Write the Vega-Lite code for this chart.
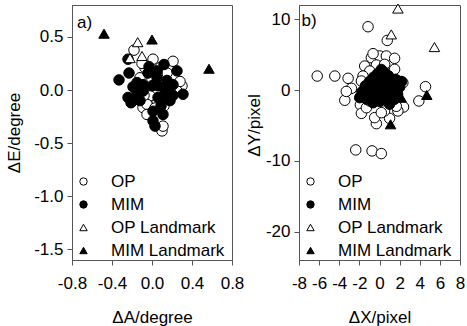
{
 "$schema": "https://vega.github.io/schema/vega-lite/v6.json",
 "padding": {"left": 5, "top": 1, "right": 0, "bottom": 0},
 "config": {
  "font": "Liberation Sans",
  "locale": {"number": {"decimal": ".", "thousands": ",", "grouping": [3], "currency": ["$", ""], "minus": "-"}},
  "view": {"stroke": "#555", "strokeWidth": 1},
  "axis": {"labelFontSize": 17, "titleFontSize": 17, "titleFontWeight": "normal", "labelColor": "black", "titleColor": "black", "domainColor": "#555", "tickColor": "#555", "tickSize": 5, "grid": false, "labelPadding": 4, "labelFlush": false, "labelOverlap": false, "labelBound": false, "titleFont": "Liberation Sans", "labelFont": "Liberation Sans"},
  "axisX": {"labelPadding": 10, "titlePadding": 18},
  "legend": {"labelFont": "Liberation Sans"},
  "text": {"font": "Liberation Sans"}
 },
 "spacing": 67,
 "bounds": "flush",
 "resolve": {"scale": {"x": "independent", "y": "independent", "shape": "independent", "fill": "independent", "stroke": "independent"}, "legend": {"shape": "independent", "fill": "independent", "stroke": "independent"}},
 "hconcat": [
  {
   "width": 160, "height": 255,
   "layer": [
    {
     "data": {"values": [
      {"x": -0.18, "y": 0.375, "s": "OP"}, {"x": 0.01, "y": 0.29, "s": "OP"}, {"x": -0.07, "y": 0.21, "s": "OP"}, {"x": 0.30, "y": 0.04, "s": "OP"}, {"x": 0.28, "y": 0.08, "s": "OP"}, {"x": 0.10, "y": -0.385, "s": "OP"}, {"x": 0.11, "y": -0.34, "s": "OP"}, {"x": -0.09, "y": -0.165, "s": "OP"}, {"x": 0.05, "y": -0.10, "s": "OP"}, {"x": -0.15, "y": 0.04, "s": "OP"}, {"x": 0.08, "y": 0.21, "s": "OP"}, {"x": 0.15, "y": 0.16, "s": "OP"}, {"x": -0.02, "y": -0.055, "s": "OP"}, {"x": -0.14, "y": -0.07, "s": "OP"}, {"x": -0.05, "y": -0.135, "s": "OP"}, {"x": -0.12, "y": 0.115, "s": "OP"}, {"x": 0.21, "y": 0.27, "s": "OP"}, {"x": 0.0, "y": 0.10, "s": "OP"}, {"x": 0.15, "y": -0.04, "s": "OP"}, {"x": -0.05, "y": -0.23, "s": "OP"}, {"x": 0.25, "y": -0.01, "s": "OP"}, {"x": 0.03, "y": -0.17, "s": "OP"}, {"x": -0.1, "y": 0.25, "s": "OP"}, {"x": 0.05, "y": 0.15, "s": "OP"}, {"x": -0.08, "y": -0.05, "s": "OP"}, {"x": 0.12, "y": -0.15, "s": "OP"},
      {"x": -0.24, "y": 0.29, "s": "MIM"}, {"x": -0.33, "y": 0.095, "s": "MIM"}, {"x": -0.23, "y": 0.16, "s": "MIM"}, {"x": -0.24, "y": -0.07, "s": "MIM"}, {"x": -0.19, "y": -0.10, "s": "MIM"}, {"x": -0.15, "y": 0.07, "s": "MIM"}, {"x": -0.19, "y": 0.03, "s": "MIM"}, {"x": -0.09, "y": -0.01, "s": "MIM"}, {"x": -0.04, "y": 0.16, "s": "MIM"}, {"x": 0.12, "y": 0.24, "s": "MIM"}, {"x": 0.05, "y": 0.115, "s": "MIM"}, {"x": 0.15, "y": 0.09, "s": "MIM"}, {"x": 0.25, "y": 0.18, "s": "MIM"}, {"x": 0.31, "y": -0.04, "s": "MIM"}, {"x": 0.21, "y": -0.05, "s": "MIM"}, {"x": 0.18, "y": -0.10, "s": "MIM"}, {"x": 0.11, "y": -0.23, "s": "MIM"}, {"x": 0.01, "y": -0.29, "s": "MIM"}, {"x": 0.03, "y": -0.34, "s": "MIM"}, {"x": 0.06, "y": 0.04, "s": "MIM"}, {"x": 0.0, "y": 0.04, "s": "MIM"}, {"x": 0.06, "y": -0.07, "s": "MIM"}, {"x": 0.13, "y": 0.0, "s": "MIM"}, {"x": 0.21, "y": 0.05, "s": "MIM"}, {"x": -0.12, "y": -0.10, "s": "MIM"}, {"x": -0.21, "y": -0.12, "s": "MIM"}, {"x": 0.01, "y": -0.2, "s": "MIM"}, {"x": -0.09, "y": 0.05, "s": "MIM"}, {"x": 0.05, "y": 0.18, "s": "MIM"}, {"x": 0.15, "y": -0.07, "s": "MIM"}, {"x": -0.03, "y": 0.22, "s": "MIM"}, {"x": 0.09, "y": -0.15, "s": "MIM"}, {"x": -0.15, "y": -0.02, "s": "MIM"},
      {"x": -0.143, "y": 0.45, "s": "OP Landmark"}, {"x": -0.10, "y": 0.32, "s": "OP Landmark"}, {"x": -0.22, "y": 0.30, "s": "OP Landmark"},
      {"x": -0.48, "y": 0.53, "s": "MIM Landmark"}, {"x": 0.0, "y": 0.475, "s": "MIM Landmark"}, {"x": 0.57, "y": 0.20, "s": "MIM Landmark"}
     ]},
     "mark": {"type": "point", "filled": true, "size": 110, "strokeWidth": 1, "opacity": 1},
     "encoding": {
      "x": {"field": "x", "type": "quantitative", "scale": {"domain": [-0.8, 0.8], "nice": false, "zero": false}, "axis": {"values": [-0.8, -0.4, 0, 0.4, 0.8], "tickCount": 20, "format": ".1f", "title": "ΔA/degree", "labelOverlap": false}},
      "y": {"field": "y", "type": "quantitative", "scale": {"domain": [-1.6, 0.8], "nice": false, "zero": false}, "axis": {"values": [-1.5, -1, -0.5, 0, 0.5], "tickCount": 20, "format": ".1f", "title": "ΔE/degree", "titlePadding": 10, "labelOverlap": false}},
      "shape": {"field": "s", "type": "nominal", "scale": {"domain": ["OP", "MIM", "OP Landmark", "MIM Landmark"], "range": ["circle", "circle", "triangle-up", "triangle-up"]}, "legend": {"orient": "bottom-left", "title": null, "labelFontSize": 17, "symbolSize": 55, "symbolStrokeWidth": 1, "rowPadding": 5, "padding": 0, "offset": 1, "symbolOffset": 2, "labelOffset": 19}},
      "fill": {"field": "s", "type": "nominal", "scale": {"domain": ["OP", "MIM", "OP Landmark", "MIM Landmark"], "range": ["white", "black", "white", "black"]}, "legend": {"orient": "bottom-left", "title": null, "labelFontSize": 17, "symbolSize": 55, "symbolStrokeWidth": 1, "rowPadding": 5, "padding": 0, "offset": 1, "symbolOffset": 2, "labelOffset": 19}},
      "stroke": {"field": "s", "type": "nominal", "scale": {"domain": ["OP", "MIM", "OP Landmark", "MIM Landmark"], "range": ["black", "black", "black", "black"]}, "legend": {"orient": "bottom-left", "title": null, "labelFontSize": 17, "symbolSize": 55, "symbolStrokeWidth": 1, "rowPadding": 5, "padding": 0, "offset": 1, "symbolOffset": 2, "labelOffset": 19}}
     }
    },
    {
     "data": {"values": [{"x": -0.75, "y": 0.71, "t": "a)"}]},
     "mark": {"type": "text", "align": "left", "baseline": "top", "fontSize": 17, "color": "black"},
     "encoding": {"x": {"field": "x", "type": "quantitative"}, "y": {"field": "y", "type": "quantitative"}, "text": {"field": "t"}}
    }
   ]
  },
  {
   "width": 161, "height": 255,
   "layer": [
    {
     "data": {"values": [
      {"x": -6.19, "y": 1.97, "s": "OP"}, {"x": -4.44, "y": 1.97, "s": "OP"}, {"x": -1.14, "y": 8.93, "s": "OP"}, {"x": 0.77, "y": 7.0, "s": "OP"}, {"x": -3.12, "y": 1.65, "s": "OP"}, {"x": -2.79, "y": 0.23, "s": "OP"}, {"x": -3.45, "y": -1.45, "s": "OP"}, {"x": -3.3, "y": -0.2, "s": "OP"}, {"x": -2.36, "y": -8.46, "s": "OP"}, {"x": -0.74, "y": -8.6, "s": "OP"}, {"x": 0.18, "y": -8.98, "s": "OP"}, {"x": 4.57, "y": 0.47, "s": "OP"}, {"x": 3.91, "y": -1.55, "s": "OP"}, {"x": 2.39, "y": -2.4, "s": "OP"}, {"x": -1.9, "y": -2.1, "s": "OP"}, {"x": -1.8, "y": -3.3, "s": "OP"}, {"x": -0.31, "y": -4.75, "s": "OP"}, {"x": 1.0, "y": -4.0, "s": "OP"}, {"x": 0.5, "y": -2.96, "s": "OP"}, {"x": -0.81, "y": 4.56, "s": "OP"}, {"x": 0.01, "y": 4.8, "s": "OP"}, {"x": 0.68, "y": 4.8, "s": "OP"}, {"x": 1.5, "y": 4.47, "s": "OP"}, {"x": -0.64, "y": 5.13, "s": "OP"}, {"x": -0.31, "y": 3.53, "s": "OP"}, {"x": 0.51, "y": 3.62, "s": "OP"}, {"x": -1.47, "y": 3.38, "s": "OP"}, {"x": -0.97, "y": 2.68, "s": "OP"}, {"x": 1.5, "y": 2.92, "s": "OP"}, {"x": -1.64, "y": 1.97, "s": "OP"}, {"x": -1.8, "y": 1.27, "s": "OP"}, {"x": 2.32, "y": 1.03, "s": "OP"}, {"x": 1.83, "y": 1.27, "s": "OP"}, {"x": -1.8, "y": -0.38, "s": "OP"}, {"x": -1.3, "y": -2.5, "s": "OP"}, {"x": -0.48, "y": -3.9, "s": "OP"}, {"x": 0.18, "y": -3.2, "s": "OP"}, {"x": 1.83, "y": -2.96, "s": "OP"}, {"x": 1.67, "y": -2.3, "s": "OP"}, {"x": -0.97, "y": -1.55, "s": "OP"},
      {"x": 0.18, "y": 2.9, "s": "MIM"}, {"x": 0.5, "y": 2.5, "s": "MIM"}, {"x": -0.2, "y": 2.3, "s": "MIM"}, {"x": 0.9, "y": 2.0, "s": "MIM"}, {"x": -0.6, "y": 1.8, "s": "MIM"}, {"x": 1.6, "y": 1.5, "s": "MIM"}, {"x": 2.0, "y": 1.2, "s": "MIM"}, {"x": 1.2, "y": 1.0, "s": "MIM"}, {"x": -1.0, "y": 1.2, "s": "MIM"}, {"x": -1.4, "y": 0.6, "s": "MIM"}, {"x": -1.7, "y": -0.2, "s": "MIM"}, {"x": -1.8, "y": -0.9, "s": "MIM"}, {"x": -1.3, "y": -1.3, "s": "MIM"}, {"x": -0.64, "y": -1.8, "s": "MIM"}, {"x": 0.0, "y": -1.6, "s": "MIM"}, {"x": 1.0, "y": -2.0, "s": "MIM"}, {"x": 1.5, "y": -1.3, "s": "MIM"}, {"x": 2.0, "y": 0.4, "s": "MIM"}, {"x": 1.8, "y": -0.6, "s": "MIM"}, {"x": 0.4, "y": 0.3, "s": "MIM"}, {"x": -0.5, "y": 0.2, "s": "MIM"}, {"x": 0.8, "y": -0.8, "s": "MIM"}, {"x": -0.9, "y": -0.6, "s": "MIM"}, {"x": 0.2, "y": -0.9, "s": "MIM"}, {"x": 0.6, "y": 1.2, "s": "MIM"}, {"x": -0.3, "y": 1.0, "s": "MIM"}, {"x": 1.3, "y": 0.2, "s": "MIM"}, {"x": -1.2, "y": 0.0, "s": "MIM"}, {"x": 0.0, "y": 0.0, "s": "MIM"}, {"x": 0.5, "y": -0.3, "s": "MIM"}, {"x": -0.4, "y": -1.0, "s": "MIM"}, {"x": 1.1, "y": -1.4, "s": "MIM"}, {"x": -0.8, "y": 0.5, "s": "MIM"}, {"x": 0.3, "y": 1.8, "s": "MIM"}, {"x": 1.6, "y": 0.8, "s": "MIM"}, {"x": 2.2, "y": 1.2, "s": "MIM"}, {"x": -1.97, "y": -1.08, "s": "MIM"},
      {"x": 1.83, "y": 11.5, "s": "OP Landmark"}, {"x": 1.17, "y": 7.85, "s": "OP Landmark"}, {"x": 5.46, "y": 6.06, "s": "OP Landmark"},
      {"x": 2.16, "y": -1.08, "s": "MIM Landmark"}, {"x": 4.7, "y": -0.7, "s": "MIM Landmark"}, {"x": 1.1, "y": -4.84, "s": "MIM Landmark"}
     ]},
     "mark": {"type": "point", "filled": true, "size": 110, "strokeWidth": 1, "opacity": 1},
     "encoding": {
      "x": {"field": "x", "type": "quantitative", "scale": {"domain": [-8, 8], "nice": false, "zero": false}, "axis": {"values": [-8, -6, -4, -2, 0, 2, 4, 6, 8], "tickCount": 20, "title": "ΔX/pixel", "labelOverlap": false}},
      "y": {"field": "y", "type": "quantitative", "scale": {"domain": [-24, 12], "nice": false, "zero": false}, "axis": {"values": [-20, -10, 0, 10], "tickCount": 20, "title": "ΔY/pixel", "titlePadding": 2, "titleY": 120, "labelOverlap": false}},
      "shape": {"field": "s", "type": "nominal", "scale": {"domain": ["OP", "MIM", "OP Landmark", "MIM Landmark"], "range": ["circle", "circle", "triangle-up", "triangle-up"]}, "legend": {"orient": "bottom-left", "title": null, "labelFontSize": 17, "symbolSize": 55, "symbolStrokeWidth": 1, "rowPadding": 5, "padding": 0, "offset": 1, "symbolOffset": 2, "labelOffset": 19}},
      "fill": {"field": "s", "type": "nominal", "scale": {"domain": ["OP", "MIM", "OP Landmark", "MIM Landmark"], "range": ["white", "black", "white", "black"]}, "legend": {"orient": "bottom-left", "title": null, "labelFontSize": 17, "symbolSize": 55, "symbolStrokeWidth": 1, "rowPadding": 5, "padding": 0, "offset": 1, "symbolOffset": 2, "labelOffset": 19}},
      "stroke": {"field": "s", "type": "nominal", "scale": {"domain": ["OP", "MIM", "OP Landmark", "MIM Landmark"], "range": ["black", "black", "black", "black"]}, "legend": {"orient": "bottom-left", "title": null, "labelFontSize": 17, "symbolSize": 55, "symbolStrokeWidth": 1, "rowPadding": 5, "padding": 0, "offset": 1, "symbolOffset": 2, "labelOffset": 19}}
     }
    },
    {
     "data": {"values": [{"x": -7.74, "y": 10.9, "t": "b)"}]},
     "mark": {"type": "text", "align": "left", "baseline": "top", "fontSize": 17, "color": "black"},
     "encoding": {"x": {"field": "x", "type": "quantitative"}, "y": {"field": "y", "type": "quantitative"}, "text": {"field": "t"}}
    }
   ]
  }
 ]
}
